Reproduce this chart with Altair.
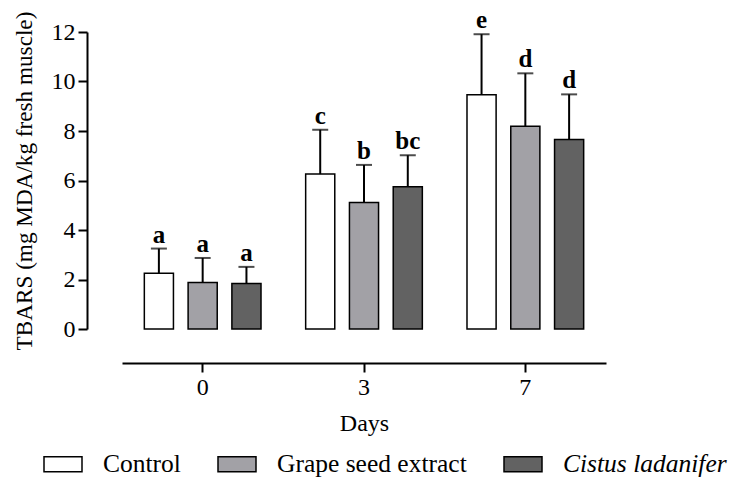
import altair as alt
import pandas as pd

days = ["0", "0", "0", "3", "3", "3", "7", "7", "7"]
groups = ["Control", "Grape seed extract", "Cistus ladanifer"] * 3
means = [2.25, 1.88, 1.84, 6.26, 5.11, 5.75, 9.46, 8.19, 7.66]
uppers = [3.25, 2.87, 2.51, 8.05, 6.63, 7.02, 11.91, 10.33, 9.48]
letters = ["a", "a", "a", "c", "b", "bc", "e", "d", "d"]

group_order = ["Control", "Grape seed extract", "Cistus ladanifer"]
group_colors = ["#ffffff", "#a2a1a6", "#626262"]

df = pd.DataFrame({"Days": days, "Group": groups, "Mean": means,
                   "Upper": uppers, "Letter": letters})

FONT = "Liberation Serif"
FS = 24

x = alt.X("Days:N", sort=["0", "3", "7"],
          scale=alt.Scale(paddingInner=0, paddingOuter=0),
          axis=alt.Axis(title="Days", labelAngle=0, offset=34,
                        domainColor="black", domainWidth=2,
                        tickColor="black", tickWidth=2, tickSize=9,
                        labelFontSize=FS, titleFontSize=FS,
                        labelPadding=3, titlePadding=12,
                        labelFont=FONT, titleFont=FONT,
                        labelColor="black", titleColor="black",
                        titleFontWeight="normal"))
xo = alt.XOffset("Group:N", sort=group_order,
                 scale=alt.Scale(paddingInner=0.335, paddingOuter=0.51))

y_axis = alt.Axis(title="TBARS (mg MDA/kg fresh muscle)", values=[0, 2, 4, 6, 8, 10, 12],
                  offset=35, grid=False, domainColor="black", domainWidth=2,
                  tickColor="black", tickWidth=2, tickSize=9,
                  labelFontSize=FS, titleFontSize=23.2, labelPadding=3,
                  labelFont=FONT, titleFont=FONT, labelColor="black",
                  titleColor="#000000", titleFontWeight="normal", titlePadding=15)

base = alt.Chart(df)

bars = base.mark_bar(stroke="black", strokeWidth=1.5).encode(
    x=x, xOffset=xo,
    y=alt.Y("Mean:Q", scale=alt.Scale(domain=[0, 12], nice=False), axis=y_axis),
    fill=alt.Fill("Group:N", sort=group_order,
                  scale=alt.Scale(domain=group_order, range=group_colors),
                  legend=alt.Legend(
                      title=None, orient="none", direction="horizontal",
                      legendX=-79, legendY=412, columns=3, columnPadding=34,
                      symbolType="M-1,-0.395H1V0.395H-1Z", symbolSize=1444,
                      symbolStrokeColor="black", symbolStrokeWidth=1.5,
                      symbolOpacity=1, labelOffset=20,
                      labelFont=FONT, labelFontSize=25.5, labelColor="black",
                      labelFontStyle={"expr": "datum.label == 'Cistus ladanifer' ? 'italic' : 'normal'"},
                      padding=0, labelLimit=400)),
)

err = base.mark_rule(color="black", strokeWidth=2).encode(
    x=x, xOffset=xo, y="Mean:Q", y2="Upper:Q")

cap = base.mark_tick(color="black", thickness=2, size=16, orient="horizontal").encode(
    x=x, xOffset=xo, y="Upper:Q")

txt = base.mark_text(font=FONT, fontSize=25, fontWeight="bold", color="black",
                     baseline="alphabetic", dy=-6).encode(
    x=x, xOffset=xo, y="Upper:Q", text="Letter:N")

chart = alt.layer(bars, err, cap, txt).properties(
    width=484, height=297,
    autosize=alt.AutoSizeParams(type="none"),
    padding={"left": 122, "top": 32, "right": 129, "bottom": 148},
).configure(background="white").configure_view(stroke=None, strokeWidth=0)

chart.save("out.html", embed_options={"renderer": "svg", "actions": False})
